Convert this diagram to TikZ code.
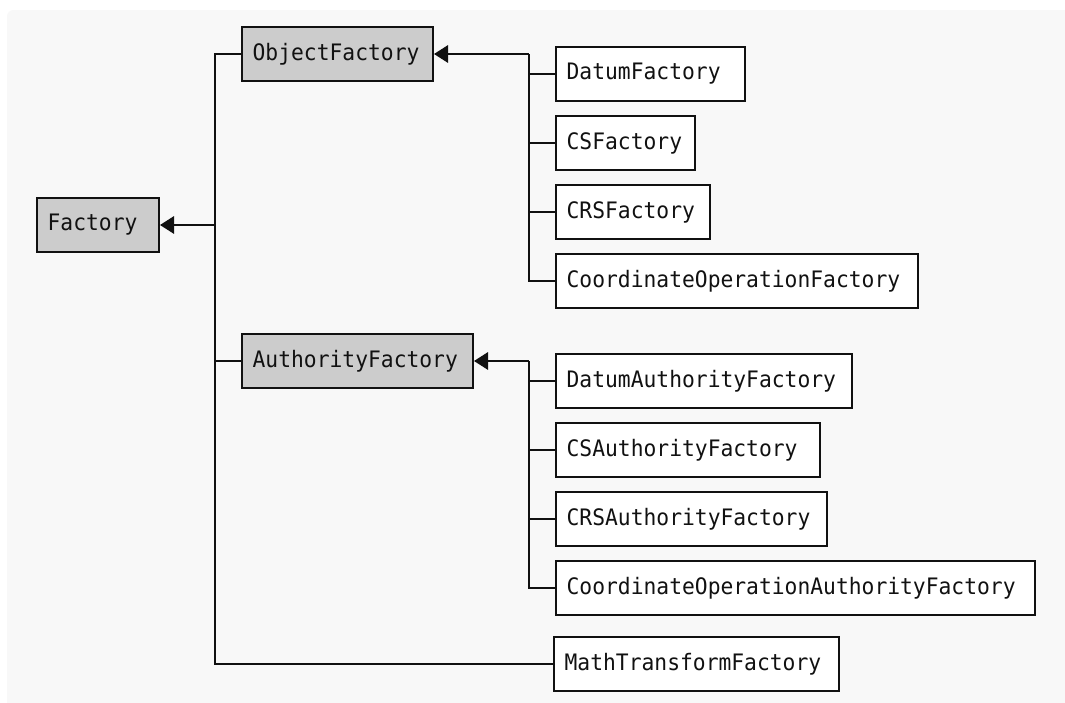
\documentclass[tikz,border=0pt]{standalone}
\usepackage{fontspec}
\newfontfamily\monofont[FakeStretch=0.94]{DejaVu Sans Mono}
\usetikzlibrary{arrows.meta}
\definecolor{panel}{HTML}{F8F8F8}
\definecolor{parent}{HTML}{CCCCCC}
\definecolor{ink}{HTML}{111111}
\tikzset{
  box/.style={draw=ink, line width=1.5pt, fill=white, inner xsep=8pt, inner ysep=0pt,
    minimum height=40.5pt, align=left, anchor=north west,
    font=\monofont\fontsize{17}{20}\selectfont, text=ink},
  parentbox/.style={box, fill=parent},
  link/.style={draw=ink, line width=1.5pt},
  arr/.style={link, -{Triangle[length=10.5pt,width=13pt]}},
}
\begin{document}
\begin{tikzpicture}[x=0.75pt,y=-0.75pt]
\useasboundingbox (0,0) rectangle (1065,703);
\fill[white] (0,0) rectangle (1065,703);
\fill[panel, rounded corners=5pt] (7,10) rectangle (1080,720);
% nodes
\node[parentbox, text width=75.5pt] (Factory) at (36,197) {Factory};
\node[parentbox, text width=127.25pt] (ObjectFactory) at (241,26) {ObjectFactory};
\node[parentbox, text width=157.25pt] (AuthorityFactory) at (241,333) {AuthorityFactory};
\node[box, text width=125.75pt] (DatumFactory) at (555,46) {DatumFactory};
\node[box, text width=88.25pt] (CSFactory) at (555,115) {CSFactory};
\node[box, text width=99.5pt] (CRSFactory) at (555,184) {CRSFactory};
\node[box, text width=255.5pt] (CoordinateOperationFactory) at (555,253) {CoordinateOperationFactory};
\node[box, text width=206pt] (DatumAuthorityFactory) at (555,353) {DatumAuthorityFactory};
\node[box, text width=182pt] (CSAuthorityFactory) at (555,422) {CSAuthorityFactory};
\node[box, text width=187.25pt] (CRSAuthorityFactory) at (555,491) {CRSAuthorityFactory};
\node[box, text width=343.25pt] (CoordinateOperationAuthorityFactory) at (555,560) {CoordinateOperationAuthorityFactory};
\node[box, text width=197.75pt] (MathTransformFactory) at (553,636) {MathTransformFactory};
% trunk coordinates
\coordinate (T) at (215,0);
\coordinate (U) at (529,0);
% Factory hierarchy
\draw[link] (ObjectFactory.west) -- (ObjectFactory.west -| T) -- (MathTransformFactory.west -| T) -- (MathTransformFactory.west);
\draw[link] (AuthorityFactory.west) -- (AuthorityFactory.west -| T);
\draw[arr] (Factory.east -| T) -- (Factory.east);
% ObjectFactory hierarchy
\draw[link] (ObjectFactory.east -| U) |- (CoordinateOperationFactory.west);
\draw[link] (DatumFactory.west) -- (DatumFactory.west -| U);
\draw[link] (CSFactory.west) -- (CSFactory.west -| U);
\draw[link] (CRSFactory.west) -- (CRSFactory.west -| U);
\draw[arr] (ObjectFactory.east -| U) -- (ObjectFactory.east);
% AuthorityFactory hierarchy
\draw[link] (AuthorityFactory.east -| U) |- (CoordinateOperationAuthorityFactory.west);
\draw[link] (DatumAuthorityFactory.west) -- (DatumAuthorityFactory.west -| U);
\draw[link] (CSAuthorityFactory.west) -- (CSAuthorityFactory.west -| U);
\draw[link] (CRSAuthorityFactory.west) -- (CRSAuthorityFactory.west -| U);
\draw[arr] (AuthorityFactory.east -| U) -- (AuthorityFactory.east);
\end{tikzpicture}
\end{document}
